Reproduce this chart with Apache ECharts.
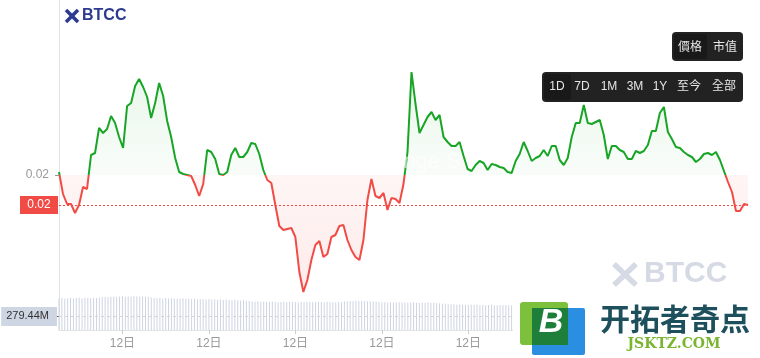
<!DOCTYPE html>
<html><head><meta charset="utf-8">
<script src="https://cdn.jsdelivr.net/npm/echarts@6/dist/echarts.min.js"></script>
<style>html,body{margin:0;padding:0;background:#fff}#c{width:760px;height:358px}</style>
</head><body><div id="c"></div>
<script>
const openPrice = 0.02;
const priceValues = [
0.020003,0.019981,0.019971,0.019971,0.019962,0.019970,0.019988,0.019986,0.020020,0.020022,
0.020047,0.020042,0.020046,0.020059,0.020052,0.020038,0.020027,0.020069,0.020072,0.020089,
0.020096,0.020088,0.020078,0.020057,0.020072,0.020092,0.020079,0.020054,0.020038,0.020017,
0.020003,0.020001,0.020000,0.019999,0.019990,0.019979,0.019991,0.020025,0.020023,0.020016,
0.020001,0.020000,0.020003,0.020020,0.020027,0.020018,0.020018,0.020023,0.020032,0.020031,
0.020021,0.020005,0.019995,0.019992,0.019970,0.019949,0.019945,0.019946,0.019947,0.019938,
0.019903,0.019883,0.019895,0.019915,0.019930,0.019934,0.019918,0.019921,0.019938,0.019940,
0.019949,0.019950,0.019935,0.019925,0.019918,0.019915,0.019935,0.019975,0.019996,0.019979,
0.019977,0.019982,0.019965,0.019977,0.019976,0.019972,0.019991,0.020023,0.020103,0.020071,
0.020042,0.020050,0.020058,0.020063,0.020055,0.020060,0.020038,0.020033,0.020029,0.020029,
0.020033,0.020019,0.020006,0.020004,0.020010,0.020014,0.020012,0.020005,0.020011,0.020010,
0.020008,0.020007,0.020003,0.020002,0.020014,0.020021,0.020033,0.020024,0.020014,0.020017,
0.020019,0.020025,0.020019,0.020029,0.020029,0.020015,0.020010,0.020017,0.020038,0.020052,
0.020052,0.020070,0.020052,0.020051,0.020053,0.020055,0.020040,0.020016,0.020029,0.020029,
0.020025,0.020023,0.020016,0.020016,0.020024,0.020022,0.020024,0.020030,0.020044,0.020044,
0.020062,0.020068,0.020043,0.020036,0.020028,0.020027,0.020023,0.020020,0.020018,0.020013,
0.020016,0.020021,0.020022,0.020020,0.020023,0.020015,0.020004,0.019993,0.019983,0.019964,
0.019964,0.019971,0.019970
];
const volumeValues = [
652,660,648,655,662,650,658,664,651,657,660,653,666,659,662,672,680,676,685,688,
682,690,694,686,692,688,696,690,684,691,687,680,668,660,655,662,650,658,646,652,
648,640,645,650,638,642,636,644,630,638,633,628,640,626,632,624,630,618,626,620,
615,622,610,606,612,600,596,588,584,590,576,582,578,574,586,580,572,578,584,570,
576,580,574,568,578,572,580,576,570,575,582,578,572,580,574,570,566,576,572,585,
592,598,594,600,596,602,598,594,590,586,580,574,568,572,566,570,562,568,572,564,
568,560,566,570,562,558,566,560,564,556,562,558,552,546,540,532,528,524,520,526,
518,522,516,520,514,518,512,516,510,514,520,512,508,514,510,516,506,510,504,500,
498,504,496,500,494,498,490,494,488,492,486,490,484,488,480,484,478,482,476,480,
474,478,470,474,468,472,466,470,462,466,460,464,456,460,452,456,448,452,444,448,
440,444,436,440,432,436,428,432,424,428,420,424,416,420,412,416,408,412,404,400,
396,392,388,384,380,376,372,368,364,360,352,344,336,328,320,312,304,296,288,279.44
];
const volumeMarker = 279.44;
const tickIndices = [22, 52, 82, 112, 142, 172, 202, 232];
const tickText = '12日';
const typeButtons = ['價格', '市值'];
const rangeButtons = ['1D', '7D', '1M', '3M', '1Y', '至今', '全部'];

const priceCats = priceValues.map((_, i) => String(i));
const volumeCats = volumeValues.map((_, i) => String(i));

const GREEN = '#18a526', RED = '#f14b45';
const split = 175 / 330;
const lineGrad = new echarts.graphic.LinearGradient(0, 0, 0, 330, [
  {offset: 0, color: GREEN}, {offset: split, color: GREEN},
  {offset: split, color: RED}, {offset: 1, color: RED}], true);
const areaGrad = new echarts.graphic.LinearGradient(0, 0, 0, 330, [
  {offset: 0, color: 'rgba(24,165,38,0.20)'}, {offset: split, color: 'rgba(24,165,38,0.04)'},
  {offset: split, color: 'rgba(241,75,69,0.08)'}, {offset: 1, color: 'rgba(241,75,69,0.18)'}], true);

const FONT = 'Arial, "Liberation Sans", "Noto Sans CJK TC", sans-serif';
const isTick = (idx) => tickIndices.indexOf(idx) >= 0;
const C = (o) => Object.assign(o, {textAlign: 'center', align: 'center', textVerticalAlign: 'middle', verticalAlign: 'middle'});
const M = (o) => Object.assign(o, {textVerticalAlign: 'middle', verticalAlign: 'middle'});

const graphics = [];
// top-left logo
graphics.push({type: 'line', shape: {x1: 66, y1: 10, x2: 78, y2: 22}, style: {stroke: '#2c3a8f', lineWidth: 3.5}, z: 100});
graphics.push({type: 'line', shape: {x1: 78, y1: 10, x2: 66, y2: 22}, style: {stroke: '#2c3a8f', lineWidth: 3.5}, z: 100});
graphics.push({type: 'text', x: 82, y: 16, style: M({text: 'BTCC', font: 'bold 16px ' + FONT, fill: '#2c3a8f'}), z: 100});
// center watermark
graphics.push({type: 'text', x: 276, y: 162, style: M({text: 'BTCC Exchange S', font: '22px ' + FONT, fill: 'rgba(255,255,255,0.6)'}), z: 100});
// bottom-right BTCC watermark
graphics.push({type: 'line', shape: {x1: 614, y1: 264, x2: 636, y2: 285}, style: {stroke: '#d6dae4', lineWidth: 5.5}, z: 100});
graphics.push({type: 'line', shape: {x1: 636, y1: 264, x2: 614, y2: 285}, style: {stroke: '#d6dae4', lineWidth: 5.5}, z: 100});
graphics.push({type: 'text', x: 644, y: 274, style: M({text: 'BTCC', font: 'bold 30px ' + FONT, fill: '#d6dae4'}), z: 100});
// type buttons
graphics.push({type: 'rect', shape: {x: 672, y: 32, width: 71, height: 29, r: 4}, style: {fill: '#222'}, z: 100});
graphics.push({type: 'rect', shape: {x: 674, y: 34, width: 33, height: 25, r: 3}, style: {fill: '#191919'}, z: 101});
const typeX = [690, 725];
typeButtons.forEach((t, i) => graphics.push({type: 'text', x: typeX[i], y: 46.5, style: C({text: t, font: '12px "Noto Sans CJK TC", sans-serif', fill: '#e6e6e6'}), z: 102}));
// range buttons
graphics.push({type: 'rect', shape: {x: 542, y: 72, width: 201, height: 30, r: 4}, style: {fill: '#222'}, z: 100});
graphics.push({type: 'rect', shape: {x: 544, y: 74, width: 27, height: 26, r: 3}, style: {fill: '#191919'}, z: 101});
const rangeX = [557, 582, 609, 635, 660, 689, 724];
rangeButtons.forEach((t, i) => graphics.push({type: 'text', x: rangeX[i], y: 87, style: C({text: t, font: '12px Arial, "Noto Sans CJK TC", sans-serif', fill: '#e6e6e6'}), z: 102}));
// corner logo
graphics.push({type: 'rect', shape: {x: 513, y: 292, width: 247, height: 66}, style: {fill: '#fff'}, z: 110});
graphics.push({type: 'rect', shape: {x: 532, y: 308, width: 53, height: 47, r: 2}, style: {fill: '#2a8fe0'}, z: 111});
graphics.push({type: 'rect', shape: {x: 520, y: 302, width: 48, height: 43, r: 3}, style: {fill: '#7cc03c'}, z: 112});
graphics.push({type: 'rect', shape: {x: 532, y: 308, width: 36, height: 37}, style: {fill: '#1d7f3a'}, z: 113});
graphics.push({type: 'text', x: 551, y: 323, style: C({text: 'B', font: 'italic bold 34px Arial, sans-serif', fill: '#fff'}), z: 114});
graphics.push({type: 'text', x: 675, y: 319, style: C({text: '开拓者奇点', font: 'bold 30px "Noto Sans CJK SC", sans-serif', fill: '#1e4f5c'}), z: 114});
graphics.push({type: 'text', x: 674, y: 344, style: C({text: 'JSKTZ.COM', font: 'bold 14px "DejaVu Serif", serif', fill: '#7ab532'}), z: 114});

const chart = echarts.init(document.getElementById('c'), null, {renderer: 'canvas'});
chart.setOption({
  animation: false,
  backgroundColor: '#fff',
  grid: [
    {left: 59, right: 12, top: 0, height: 330, containLabel: false, outerBoundsMode: 'none'},
    {left: 59, right: 12, top: 296, height: 34, containLabel: false, outerBoundsMode: 'none'}
  ],
  xAxis: [
    {type: 'category', gridIndex: 0, data: priceCats, boundaryGap: false, show: false},
    {type: 'category', gridIndex: 1, data: volumeCats, boundaryGap: false,
     axisLine: {show: true, lineStyle: {color: '#e3e3e3'}},
     axisTick: {show: true, interval: (idx) => isTick(idx), length: 4, lineStyle: {color: '#ccc'}},
     axisLabel: {interval: (idx) => isTick(idx), formatter: () => tickText, color: '#999', fontSize: 12, margin: 8, fontFamily: FONT},
     splitLine: {show: false}}
  ],
  yAxis: [
    {type: 'value', gridIndex: 0, min: 0.019845, max: 0.020175,
     axisLine: {show: true, lineStyle: {color: '#e3e3e3'}},
     axisTick: {show: true, customValues: [openPrice], length: 4, lineStyle: {color: '#999'}},
     axisLabel: {customValues: [openPrice], formatter: (v) => Number(v).toFixed(2), color: '#999', fontSize: 12, margin: 10, fontFamily: FONT},
     splitLine: {show: false}},
    {type: 'value', gridIndex: 1, min: 0, max: 700,
     axisLine: {show: true, lineStyle: {color: '#e3e3e3'}},
     axisTick: {show: true, customValues: [volumeMarker], length: 4, lineStyle: {color: '#555'}},
     axisLabel: {customValues: [volumeMarker], formatter: (v) => Number(v).toFixed(2) + 'M', color: '#333', fontSize: 11, margin: 2,
       backgroundColor: '#ced5e3', padding: [4, 8, 4, 5], fontFamily: FONT},
     splitLine: {show: false}}
  ],
  series: [
    {type: 'bar', xAxisIndex: 1, yAxisIndex: 1, data: volumeValues, barWidth: 1,
     itemStyle: {color: '#cdd4e2'}, silent: true,
     markLine: {symbol: 'none', silent: true, data: [{yAxis: volumeMarker}],
       lineStyle: {color: '#d5d5d5', type: [3, 3], width: 1}, label: {show: false}}},
    {type: 'line', xAxisIndex: 0, yAxisIndex: 0, data: priceValues, symbol: 'none', showSymbol: false,
     lineStyle: {width: 2, color: lineGrad},
     areaStyle: {origin: openPrice, color: areaGrad}}
  ],
  graphic: graphics
});

// current price reference line + label, placed through the library's scales
const lastVal = priceValues[priceValues.length - 1];
const yCur = chart.convertToPixel({yAxisIndex: 0}, lastVal);
const xL = chart.convertToPixel({xAxisIndex: 0}, 0);
const xR = chart.convertToPixel({xAxisIndex: 0}, priceValues.length - 1);
const extra = graphics.slice();
extra.push({type: 'line', shape: {x1: xL, y1: yCur + 0.5, x2: xR, y2: yCur + 0.5}, style: {stroke: RED, lineWidth: 1, lineDash: [2, 2]}, z: 90});
extra.push({type: 'rect', shape: {x: 20, y: yCur - 9, width: 38, height: 18}, style: {fill: RED}, z: 91});
extra.push({type: 'text', x: 39, y: yCur, style: C({text: lastVal.toFixed(2), font: '12px ' + FONT, fill: '#fff'}), z: 92});
chart.setOption({graphic: extra});
</script></body></html>
